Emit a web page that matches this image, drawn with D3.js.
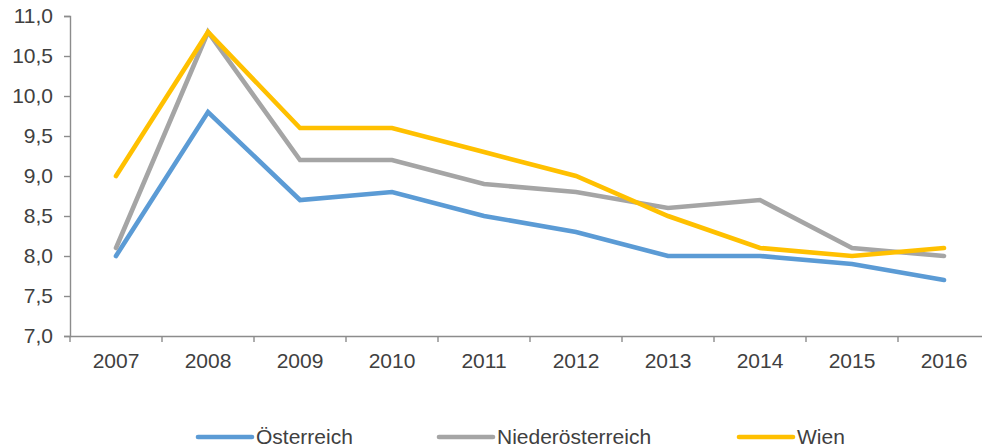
<!DOCTYPE html>
<html>
<head>
<meta charset="utf-8">
<script src="https://cdn.jsdelivr.net/npm/d3@7"></script>
<style>
  body { margin: 0; background: #fff; }
  text { font-family: "Liberation Sans", Arial, sans-serif; fill: #404040; }
</style>
</head>
<body>
<div class="chart"></div>
<script>
(function() {
  'use strict';

  const years = ['2007','2008','2009','2010','2011','2012','2013','2014','2015','2016'];
  const oesterreich       = [8.0, 9.8, 8.7, 8.8, 8.5, 8.3, 8.0, 8.0, 7.9, 7.7];
  const niederoesterreich = [8.1, 10.8, 9.2, 9.2, 8.9, 8.8, 8.6, 8.7, 8.1, 8.0];
  const wien              = [9.0, 10.8, 9.6, 9.6, 9.3, 9.0, 8.5, 8.1, 8.0, 8.1];
  const yTicks = [7.0, 7.5, 8.0, 8.5, 9.0, 9.5, 10.0, 10.5, 11.0];

  const series = [
    { name: 'Österreich', values: oesterreich, color: '#5B9BD5' },
    { name: 'Niederösterreich', values: niederoesterreich, color: '#A5A5A5' },
    { name: 'Wien', values: wien, color: '#FFC000' }
  ];

  let width = 982, height = 448,
      left = 70, right = 990, top = 16, bottom = 336,
      fontSize = '21px',

      svg = d3.select('.chart')
        .append('svg')
        .attr('width', width)
        .attr('height', height),

      x = d3.scaleBand().domain(years).range([left, right]),
      y = d3.scaleLinear().domain([7, 11]).range([bottom, top]),
      fmt = v => d3.format('.1f')(v).replace('.', ',');

  // y axis
  const yAxis = svg.append('g')
    .attr('transform', `translate(${left},0)`)
    .call(d3.axisLeft(y).tickValues(yTicks).tickFormat(fmt).tickSize(6).tickPadding(11));
  yAxis.selectAll('line, path').attr('stroke', '#8c8c8c').attr('stroke-width', 1.4);
  yAxis.selectAll('text').style('font-size', fontSize).attr('fill', '#404040');

  // x axis, ticks sit between the categories
  const xAxis = svg.append('g')
    .attr('transform', `translate(0,${bottom})`)
    .call(d3.axisBottom(x).tickSize(0).tickPadding(17));
  xAxis.select('.domain').attr('stroke', '#8c8c8c').attr('stroke-width', 1.4);
  xAxis.selectAll('text').style('font-size', fontSize).attr('fill', '#404040');
  xAxis.selectAll('.sep')
    .data(years.concat(['end']))
    .enter()
    .append('line')
      .attr('x1', (d, i) => left + i * x.step())
      .attr('x2', (d, i) => left + i * x.step())
      .attr('y1', 0).attr('y2', 6)
      .attr('stroke', '#8c8c8c').attr('stroke-width', 1.4);

  // lines
  const line = d3.line()
    .x((d, i) => x(years[i]) + x.bandwidth() / 2)
    .y(d => y(d));

  svg.selectAll('.series')
    .data(series)
    .enter()
    .append('path')
      .attr('class', 'series')
      .attr('d', d => line(d.values))
      .attr('fill', 'none')
      .attr('stroke', d => d.color)
      .attr('stroke-width', 4.6)
      .attr('stroke-linecap', 'round')
      .attr('stroke-linejoin', 'miter');

  // legend
  const legendX = [197, 438, 738];
  const lg = svg.selectAll('.legend')
    .data(series)
    .enter()
    .append('g')
      .attr('class', 'legend')
      .attr('transform', (d, i) => `translate(${legendX[i]},437)`);
  lg.append('line')
    .attr('x1', 1).attr('x2', 55)
    .attr('stroke', d => d.color)
    .attr('stroke-width', 4.6)
    .attr('stroke-linecap', 'round');
  lg.append('text')
    .attr('x', 59).attr('y', 7)
    .style('font-size', fontSize)
    .text(d => d.name);
})();
</script>
</body>
</html>
